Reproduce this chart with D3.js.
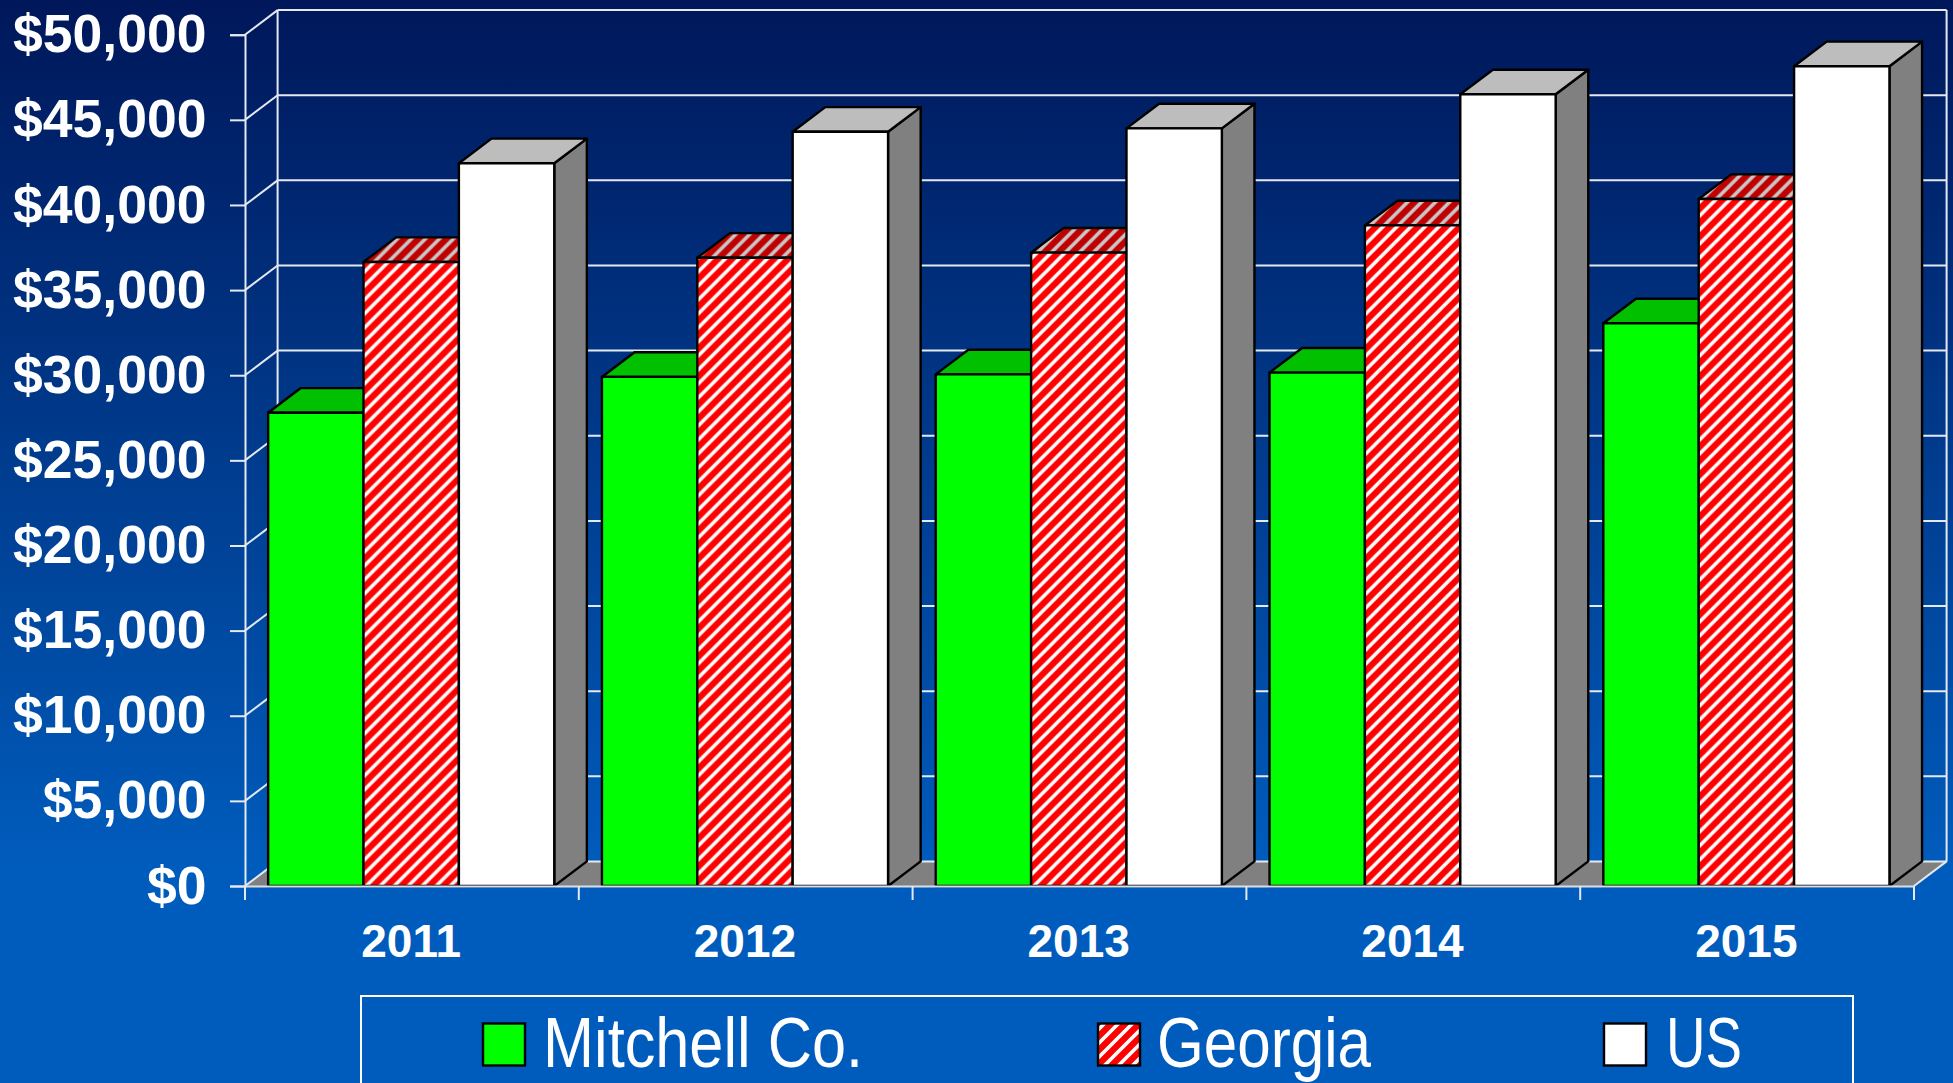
<!DOCTYPE html>
<html>
<head>
<meta charset="utf-8">
<script src="https://cdn.jsdelivr.net/npm/d3@7"></script>
<style>
  html, body { margin: 0; padding: 0; background: #005cbc; overflow: hidden; }
  text { font-family: "Liberation Sans", Arial, sans-serif; fill: #fff; }
</style>
</head>
<body>
<div id="chart"></div>
<script>
  var years = ["2011", "2012", "2013", "2014", "2015"];
  var seriesNames = ["Mitchell Co.", "Georgia", "US"];
  var mitchell = [27800, 29900, 30050, 30150, 33050];
  var georgia = [36650, 36900, 37200, 38800, 40350];
  var us = [42450, 44300, 44500, 46500, 48150];
  var yTicks = [0, 5000, 10000, 15000, 20000, 25000, 30000, 35000, 40000, 45000, 50000];

  var svgWidth = 1953;
  var svgHeight = 1083;
  var margin = { top: 34.7, right: 39, bottom: 197, left: 245 };
  var width = svgWidth - margin.left - margin.right;
  var height = svgHeight - margin.top - margin.bottom;
  var depthX = 32.6;
  var depthY = 24.6;

  var svg = d3.select("#chart")
    .append("svg")
    .attr("width", svgWidth)
    .attr("height", svgHeight)
    .style("display", "block");

  var defs = svg.append("defs");

  var bg = defs.append("linearGradient")
    .attr("id", "bg")
    .attr("x1", 0).attr("y1", 0).attr("x2", 0).attr("y2", 1);
  bg.append("stop").attr("offset", 0).attr("stop-color", "#00175a");
  bg.append("stop").attr("offset", 0.8).attr("stop-color", "#005cbc");
  bg.append("stop").attr("offset", 1).attr("stop-color", "#005cbc");

  // hatch for the Georgia bars, front and darker top
  function hatch(id, base, stripe) {
    var p = defs.append("pattern")
      .attr("id", id)
      .attr("patternUnits", "userSpaceOnUse")
      .attr("width", 14)
      .attr("height", 14);
    p.append("rect").attr("width", 14).attr("height", 14).attr("fill", base);
    p.append("path")
      .attr("d", "M-4,4 L4,-4 M-4,18 L18,-4 M10,18 L18,10")
      .attr("stroke", stripe)
      .attr("stroke-width", 3.6);
  }
  hatch("hatchFront", "#ff0000", "#ffffff");
  hatch("hatchTop", "#c00000", "#c8c8c8");

  svg.append("rect")
    .attr("width", svgWidth)
    .attr("height", svgHeight)
    .attr("fill", "url(#bg)");

  var chartGroup = svg.append("g")
    .attr("transform", `translate(${margin.left}, ${margin.top})`);

  var xScale = d3.scaleBand()
    .domain(years)
    .range([0, width]);

  var barScale = d3.scaleBand()
    .domain(seriesNames)
    .range([0, xScale.bandwidth()])
    .paddingInner(0)
    .paddingOuter(0.25);

  var yScale = d3.scaleLinear()
    .domain([0, 50000])
    .range([height, 0]);

  // floor
  chartGroup.append("path")
    .attr("d", `M0,${height} L${depthX},${height - depthY} L${width + depthX},${height - depthY} L${width},${height} Z`)
    .attr("fill", "#808080");

  // back wall gridlines
  var gridColor = "#e4e9f2";
  chartGroup.selectAll(".grid")
    .data(yTicks)
    .enter()
    .append("line")
    .attr("class", "grid")
    .attr("x1", depthX)
    .attr("x2", width + depthX)
    .attr("y1", d => yScale(d) - depthY)
    .attr("y2", d => yScale(d) - depthY)
    .attr("stroke", gridColor)
    .attr("stroke-width", 2);

  // side wall diagonals
  chartGroup.selectAll(".diag")
    .data(yTicks)
    .enter()
    .append("line")
    .attr("class", "diag")
    .attr("x1", 0)
    .attr("x2", depthX)
    .attr("y1", d => yScale(d))
    .attr("y2", d => yScale(d) - depthY)
    .attr("stroke", gridColor)
    .attr("stroke-width", 2);

  // back wall edges
  [depthX, width + depthX].forEach(function(x) {
    chartGroup.append("line")
      .attr("x1", x)
      .attr("x2", x)
      .attr("y1", yScale(50000) - depthY)
      .attr("y2", yScale(0) - depthY)
      .attr("stroke", gridColor)
      .attr("stroke-width", 2);
  });
  chartGroup.append("line")
    .attr("x1", width)
    .attr("x2", width + depthX)
    .attr("y1", yScale(0))
    .attr("y2", yScale(0) - depthY)
    .attr("stroke", gridColor)
    .attr("stroke-width", 2);

  // bars
  var barData = [];
  years.forEach(function(year, i) {
    barData.push({ year: year, series: seriesNames[0], value: mitchell[i], front: "#00ff00", top: "#00c000", side: "#00c000" });
    barData.push({ year: year, series: seriesNames[1], value: georgia[i], front: "url(#hatchFront)", top: "url(#hatchTop)", side: "url(#hatchTop)" });
    barData.push({ year: year, series: seriesNames[2], value: us[i], front: "#ffffff", top: "#bdbdbd", side: "#808080" });
  });

  var bars = chartGroup.selectAll(".bar")
    .data(barData)
    .enter()
    .append("g")
    .attr("class", "bar")
    .attr("transform", d => `translate(${xScale(d.year) + barScale(d.series) - 0.7}, 0)`)
    .attr("stroke", "#000")
    .attr("stroke-width", 2.4)
    .attr("stroke-linejoin", "round");

  var w = barScale.bandwidth();

  bars.append("path")
    .attr("d", d => `M${w},${height} L${w + depthX},${height - depthY} L${w + depthX},${yScale(d.value) - depthY} L${w},${yScale(d.value)} Z`)
    .attr("fill", d => d.side);

  bars.append("path")
    .attr("d", d => `M0,${yScale(d.value)} L${depthX},${yScale(d.value) - depthY} L${w + depthX},${yScale(d.value) - depthY} L${w},${yScale(d.value)} Z`)
    .attr("fill", d => d.top);

  bars.append("rect")
    .attr("x", 0)
    .attr("y", d => yScale(d.value))
    .attr("width", w)
    .attr("height", d => height - yScale(d.value))
    .attr("fill", d => d.front);

  // axes
  var leftAxis = d3.axisLeft(yScale)
    .tickValues(yTicks)
    .tickSize(15)
    .tickPadding(23.5)
    .tickFormat(d => "$" + d3.format(",")(d));

  var yAxis = chartGroup.append("g").call(leftAxis);
  yAxis.select(".domain").attr("stroke", gridColor).attr("stroke-width", 2);
  yAxis.selectAll("line").attr("stroke", gridColor).attr("stroke-width", 2);
  yAxis.selectAll("text")
    .attr("font-size", 53.5)
    .attr("font-weight", "bold")
    .attr("font-family", "Liberation Sans")
    .attr("fill", "#fff");

  var bottomAxis = d3.axisBottom(xScale)
    .tickSize(0)
    .tickPadding(38);

  var xAxis = chartGroup.append("g")
    .attr("transform", `translate(0, ${height})`)
    .call(bottomAxis);
  xAxis.select(".domain").attr("stroke", "#d8dde6").attr("stroke-width", 2);
  xAxis.selectAll("text")
    .attr("x", -0.8)
    .attr("font-size", 46)
    .attr("font-weight", "bold")
    .attr("font-family", "Liberation Sans")
    .attr("fill", "#fff");

  // ticks sit between the years
  xAxis.selectAll(".sep")
    .data(d3.range(years.length + 1))
    .enter()
    .append("line")
    .attr("class", "sep")
    .attr("x1", i => i * xScale.step())
    .attr("x2", i => i * xScale.step())
    .attr("y1", 0)
    .attr("y2", 14)
    .attr("stroke", gridColor)
    .attr("stroke-width", 2);

  // legend
  var legendFills = ["#00ff00", "url(#hatchFront)", "#ffffff"];
  var legendSwatchX = [483, 1098, 1604];
  var legendTextX = [543, 1157, 1666];
  var legendTextLen = [320, 214, 76];

  svg.append("rect")
    .attr("x", 361)
    .attr("y", 996)
    .attr("width", 1492)
    .attr("height", 120)
    .attr("fill", "none")
    .attr("stroke", "#fff")
    .attr("stroke-width", 2);

  var legend = svg.selectAll(".legend")
    .data(seriesNames)
    .enter()
    .append("g")
    .attr("class", "legend");

  legend.append("rect")
    .attr("x", (d, i) => legendSwatchX[i])
    .attr("y", 1023.5)
    .attr("width", 42)
    .attr("height", 42)
    .attr("fill", (d, i) => legendFills[i])
    .attr("stroke", "#000")
    .attr("stroke-width", 2.4);

  legend.append("text")
    .attr("x", (d, i) => legendTextX[i])
    .attr("y", 1067)
    .attr("font-size", 70)
    .attr("textLength", (d, i) => legendTextLen[i])
    .attr("lengthAdjust", "spacingAndGlyphs")
    .text(d => d);
</script>
</body>
</html>
